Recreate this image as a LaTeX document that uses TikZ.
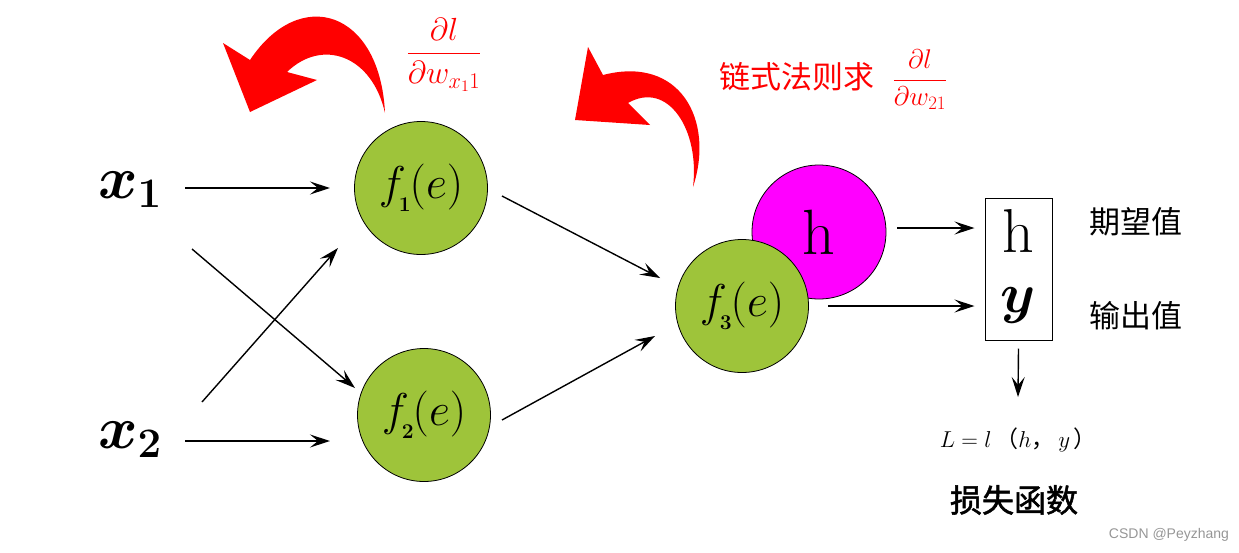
\RequirePackage{fix-cm}
\documentclass[tikz,border=0pt]{standalone}
\usepackage{amsmath}
\usepackage{bm}
\usepackage{fontspec}
\newfontfamily\cjk{Noto Sans CJK SC}
\newfontfamily\cjkb[FakeBold=1.6]{Noto Sans CJK SC}
\newfontfamily\wmfont{Liberation Sans}
\usetikzlibrary{arrows.meta,calc}
\definecolor{leaf}{RGB}{158,196,58}
\definecolor{pinkm}{RGB}{255,0,255}
\definecolor{wm}{RGB}{150,150,150}
\newcommand\fofe[1]{$f$\kern-7pt\raisebox{-13pt}{\fontsize{21}{21}\selectfont\bfseries #1}\kern-1pt$(e)$}
\begin{document}
\begin{tikzpicture}[x=1pt,y=-1pt,
  neuron/.style={circle,draw=black,line width=0.8pt,fill=leaf,minimum size=133pt,inner sep=0pt,
    font=\fontsize{46}{50}\selectfont},
  arr/.style={-{Stealth[length=20pt,width=13pt,inset=8pt]},line width=1.4pt},
  inlabel/.style={font=\fontsize{60}{70}\selectfont,inner sep=2pt},
  cjklabel/.style={font=\cjk\fontsize{31}{34}\selectfont,inner sep=0pt},
]
\useasboundingbox (0,0) rectangle (1239,552);

% inputs
\node[inlabel] (x1) at (130,190) {$\bm{x_1}$};
\node[inlabel] (x2) at (130,440) {$\bm{x_2}$};

% neurons
\node[neuron] (f1) at (421,188) {\fofe{1}};
\node[neuron] (f2) at (424,415) {\fofe{2}};
\node[circle,draw=black,line width=0.8pt,fill=pinkm,minimum size=134pt,inner sep=0pt,
  font=\fontsize{64}{70}\selectfont] (h) at (819,232) {h};
\node[neuron] (f3) at (742,306) {\fofe{3}};

% output box
\node[draw,line width=1pt,minimum width=67pt,minimum height=142pt,inner sep=0pt] (box) at (1018.5,269) {};
\node[font=\fontsize{62}{66}\selectfont,inner sep=0pt] (bh) at (1018,231) {h};
\node[font=\fontsize{56}{60}\selectfont,inner sep=0pt] (by) at (1018,305) {$\bm{y}$};

\node[cjklabel] (exp) at (1136,222) {期望值};
\node[cjklabel] (out) at (1136,316) {输出值};

\node[font=\fontsize{23}{25}\selectfont,inner sep=0pt] (L) at (1018,440)
  {$L=l$\,{\cjk （}$h${\cjk ，}\hspace{4pt}$y$\hspace{3pt}{\cjk ）}};
\node[font=\cjkb\fontsize{32}{36}\selectfont,inner sep=0pt] (loss) at (1014,500) {损失函数};

% connectors
\draw[arr] ([shift={(55,-2)}]x1.center) -- ([shift={(-91,0)}]f1.center);
\draw[arr] ([shift={(55,1)}]x2.center) -- ([shift={(-94,26)}]f2.center);
\draw[arr] ([shift={(62,59)}]x1.center) -- ([shift={(-69,-27)}]f2.center);
\draw[arr] ([shift={(72,-38)}]x2.center) -- ([shift={(-83,60)}]f1.center);
\draw[arr] ([shift={(81,8)}]f1.center) -- ([shift={(-82,-28)}]f3.center);
\draw[arr] ([shift={(78,5)}]f2.center) -- ([shift={(-87,30)}]f3.center);
\draw[arr] ([shift={(78,-4)}]h.center) -- ([shift={(-10,-41)}]box.west);
\draw[arr] ([shift={(86,0)}]f3.center) -- ([shift={(-10,37)}]box.west);
\draw[arr] ([shift={(0,8)}]box.south) -- ([shift={(0,-43)}]L.center);

% red curved arrows
\fill[red] (385,113) .. controls (380,10) and (300,-15) .. (250,60) -- (223,43) -- (250,112)
  -- (317,80) -- (287,72) .. controls (322,38) and (372,55) .. (385,113) -- cycle;
\fill[red] (693,187) .. controls (715,120) and (680,55) .. (603,75) -- (588,47) -- (575,120)
  -- (650,125) -- (628,103) .. controls (668,80) and (700,130) .. (693,187) -- cycle;

% red labels
\node[text=red,font=\fontsize{32}{34}\selectfont,inner sep=0pt] (d1) at (444,55)
  {$\dfrac{\partial l}{\partial w_{x_1 1}}$};
\node[cjklabel,text=red] (chain) at (797,77) {链式法则求};
\node[text=red,font=\fontsize{27}{30}\selectfont,inner sep=0pt] (d2) at (920,80)
  {$\dfrac{\partial l}{\partial w_{21}}$};

% watermark
\node[text=wm,font=\wmfont\fontsize{14}{17}\selectfont,inner sep=0pt] (mark) at (1169,535) {CSDN @Peyzhang};
\end{tikzpicture}
\end{document}
